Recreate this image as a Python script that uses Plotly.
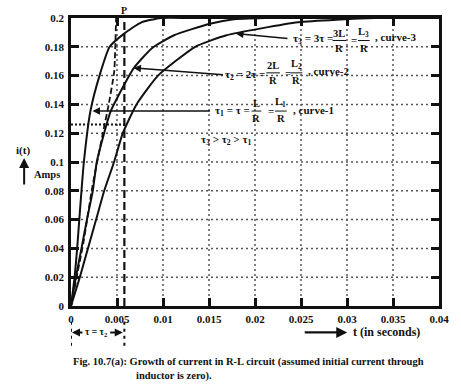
import plotly.graph_objects as go

# ---------------- data ----------------
t_curve1 = [0, 0.00039, 0.00067, 0.00090, 0.00114, 0.00140, 0.00210, 0.00310, 0.00420, 0.00574, 0.00765, 0.0098, 0.0130, 0.0200, 0.0300, 0.0400]
i_curve1 = [0, 0.02, 0.04, 0.06, 0.08, 0.10, 0.135, 0.16, 0.18, 0.189, 0.197, 0.2, 0.2, 0.2, 0.2, 0.2]

t_curve2 = [0, 0.00053, 0.00114, 0.00173, 0.00237, 0.0028, 0.0036, 0.0043, 0.0068, 0.0088, 0.0112, 0.0151, 0.0175, 0.0210, 0.0300, 0.0400]
i_curve2 = [0, 0.02, 0.04, 0.06, 0.08, 0.10, 0.12, 0.135, 0.165, 0.179, 0.188, 0.196, 0.199, 0.2, 0.2, 0.2]

t_curve3 = [0, 0.00096, 0.00184, 0.00273, 0.00361, 0.00468, 0.00563, 0.00712, 0.00946, 0.0135, 0.0169, 0.0247, 0.0330, 0.0400]
i_curve3 = [0, 0.02, 0.04, 0.06, 0.08, 0.10, 0.12, 0.14, 0.16, 0.18, 0.188, 0.197, 0.2, 0.2]

t_tangent = [0, 0.0014, 0.0023, 0.0034, 0.0041, 0.0047, 0.0049]
i_tangent = [0, 0.046, 0.082, 0.118, 0.14, 0.163, 0.2]

tau_P = 0.0058          # dashed vertical marked "P"
i_at_tau = 0.126        # 63.2 % level (dotted horizontal)

x_ticks = [0, 0.005, 0.01, 0.015, 0.02, 0.025, 0.03, 0.035, 0.04]
x_labels = ["0", "0.005", "0.01", "0.015", "0.02", "0.025", "0.03", "0.035", "0.04"]
y_ticks = [0, 0.02, 0.04, 0.06, 0.08, 0.1, 0.12, 0.14, 0.16, 0.18, 0.2]
y_labels = ["0", "0.02", "0.04", "0.06", "0.08", "0.1", "0.12", "0.14", "0.16", "0.18", "0.2"]

# ---------------- layout geometry (pixels) ----------------
W, H = 461, 391
L, R, T, B = 71, 448, 12, 306


def px(x, y):
    return (x - L) / (R - L), (B - y) / (B - T)


FONT = "Liberation Serif"
BLACK = "#111"
GRID = "#555"

fig = go.Figure()
for tt, ii in [(t_curve1, i_curve1), (t_curve2, i_curve2), (t_curve3, i_curve3)]:
    fig.add_trace(go.Scatter(x=tt, y=ii, mode="lines", line=dict(color=BLACK, width=2, shape="spline", smoothing=0.5),
                             showlegend=False, hoverinfo="skip"))
fig.add_trace(go.Scatter(x=t_tangent, y=i_tangent, mode="lines",
                         line=dict(color=BLACK, width=1.8, dash="6px,3px", shape="spline", smoothing=0.4),
                         showlegend=False, hoverinfo="skip"))
fig.add_trace(go.Scatter(x=[0, tau_P], y=[i_at_tau, i_at_tau], mode="lines",
                         line=dict(color=BLACK, width=2, dash="2px,2px"), showlegend=False, hoverinfo="skip"))

shapes = []
anns = []
# dotted grid from the tick lists
for xv in x_ticks[1:-1]:
    shapes.append(dict(type="line", xref="x", yref="paper", x0=xv, x1=xv, y0=0, y1=1, layer="below",
                       line=dict(color=GRID, width=1.5, dash="2px,3px")))
for yv in y_ticks[1:-1]:
    shapes.append(dict(type="line", xref="paper", yref="y", x0=0, x1=1, y0=yv, y1=yv, layer="below",
                       line=dict(color=GRID, width=1.5, dash="2px,3px")))
# dashed vertical "P" spanning above plot to axis
shapes.append(dict(type="line", xref="x", yref="paper", x0=tau_P, x1=tau_P, y0=0, y1=px(0, 9)[1],
                   line=dict(color=BLACK, width=2.2, dash="8px,4px")))
# dotted verticals below axis
for xv in [0, tau_P]:
    shapes.append(dict(type="line", xref="x", yref="paper", x0=xv, x1=xv, y0=px(0, 322)[1], y1=px(0, 349)[1],
                       line=dict(color=BLACK, width=2, dash="3px,4px")))


# fraction with bar
def frac(xc, yc, num, den, wbar, size=10.5):
    xp, yp = px(xc, yc)
    shapes.append(dict(type="line", xref="paper", yref="paper",
                       x0=px(xc - wbar / 2, 0)[0], x1=px(xc + wbar / 2, 0)[0], y0=yp, y1=yp,
                       line=dict(color=BLACK, width=1)))
    anns.append(dict(x=xp, y=px(0, yc - 1)[1], xref="paper", yref="paper", text=num, showarrow=False,
                     yanchor="bottom", xanchor="center", borderpad=0,
                     font=dict(family=FONT, size=size, color=BLACK, weight="bold")))
    anns.append(dict(x=xp, y=px(0, yc + 1)[1], xref="paper", yref="paper", text=den, showarrow=False,
                     yanchor="top", xanchor="center", borderpad=0,
                     font=dict(family=FONT, size=size, color=BLACK, weight="bold")))


def txt(x, y, s, xanchor="left", size=11):
    xp, yp = px(x, y)
    anns.append(dict(x=xp, y=yp, xref="paper", yref="paper", text=s, showarrow=False, xanchor=xanchor,
                     yanchor="middle", font=dict(family=FONT, size=size, color=BLACK, weight="bold")))


def arrow(x0, y0, x1, y1, width=1.5, head=2, size=1.0):
    # tail at (x0,y0) pixels, head at (x1,y1) pixels
    xh, yh = px(x1, y1)
    anns.append(dict(x=xh, y=yh, ax=x0 - x1, ay=y0 - y1, xref="paper", yref="paper",
                     axref="pixel", ayref="pixel",
                     text="", showarrow=True, arrowhead=head, arrowsize=size, arrowwidth=width, arrowcolor=BLACK))


# curve-3 label
arrow(293, 33, 240, 28)
txt(296, 33, "τ<sub>3</sub> = 3τ =")
frac(346, 35, "3L", "R", 14)
txt(356, 34, "=")
frac(371, 35, "L<sub>3</sub>", "R", 12)
txt(380, 31, ", curve-3")
# curve-2 label
arrow(226, 70, 135, 63)
txt(227, 70, "τ<sub>2</sub> = 2τ =")
frac(278, 68, "2L", "R", 14)
txt(288, 68, "=")
frac(302, 68, "L<sub>2</sub>", "R", 12)
txt(312, 66, ", curve-2")
# curve-1 label
arrow(212, 107, 93, 107)
txt(216, 107, "τ<sub>1</sub> = τ =")
frac(261, 107, "L", "R", 10)
txt(271, 107, "=")
frac(286, 107, "L<sub>1</sub>", "R", 12)
txt(296, 106, ", curve-1")
txt(202, 137, "τ<sub>3</sub> > τ<sub>2</sub> > τ<sub>1</sub>")
# P label
txt(125, 4, "P", xanchor="center", size=10)
# y title
txt(22, 147, "i(t)", xanchor="center", size=11)
arrow(23, 183, 23, 155, width=2, head=2)
txt(31, 172, "Amps", size=10.5)
# x title
arrow(310, 333, 354, 333, width=2.2, head=2)
txt(358, 333, "t (in seconds)", size=12)
# tau span
txt(97, 333, "τ = τ<sub>2</sub>", xanchor="center", size=9.5)
arrow(84, 333, 72, 333, width=2, head=2, size=0.8)
arrow(110, 333, 124, 333, width=2, head=2, size=0.8)
# caption
txt(253, 363, "Fig. 10.7(a): Growth of current in R-L circuit (assumed initial current through", xanchor="center", size=10.5)
txt(177, 377, "inductor is zero).", xanchor="center", size=10.5)

axis_common = dict(showline=True, linecolor=BLACK, linewidth=2.5, mirror="allticks", ticks="inside",
                   ticklen=8, tickwidth=2.5, tickcolor=BLACK, showgrid=False, zeroline=False,
                   tickfont=dict(family=FONT, size=11, color=BLACK, weight="bold"))

fig.update_layout(
    width=W, height=H, autosize=False,
    margin=dict(l=L, r=W - R, t=T, b=H - B),
    paper_bgcolor="white", plot_bgcolor="white",
    xaxis=dict(range=[0, 0.04], tickvals=x_ticks, ticktext=x_labels, ticklabelstandoff=1, **axis_common),
    yaxis=dict(range=[0, 0.2], tickvals=y_ticks, ticktext=y_labels, ticklabelstandoff=2, **axis_common),
    shapes=shapes, annotations=anns, showlegend=False,
)

fig.write_html("out.html", config={"displayModeBar": False},
               post_script="document.body.style.margin='0';document.body.style.padding='0';")
